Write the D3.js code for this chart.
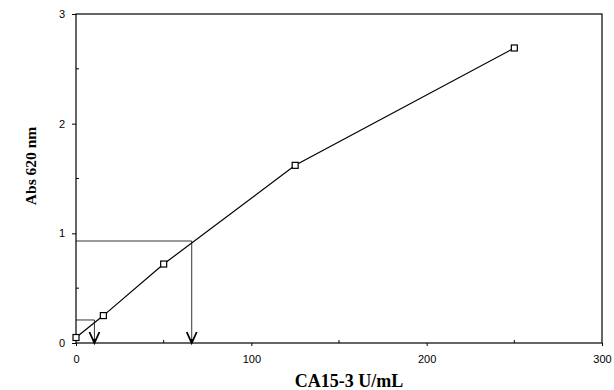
<!DOCTYPE html>
<html lang="en">
<head>
<meta charset="utf-8">
<script src="https://d3js.org/d3.v7.min.js"></script>
<style>
  body { margin: 0; background: #fff; }
  text { fill: #000; }
</style>
</head>
<body>
<script>
  var w = 614, h = 390;

  // calibration standards
  var conc = [0, 15.6, 50, 125, 250];
  var absorb = [0.05, 0.25, 0.72, 1.62, 2.69];
  // read-off lines for the two samples: [abs, conc]
  var samples = [[0.93, 66], [0.21, 10.5]];
  var xTicks = [0, 100, 200, 300];
  var yTicks = [0, 1, 2, 3];

  var margin = {left: 76, right: 12, top: 14, bottom: 47};

  var svg = d3.select("body").append("svg")
    .attr("width", w).attr("height", h);

  var x = d3.scaleLinear().domain([0, 300]).range([margin.left, w - margin.right]);
  var y = d3.scaleLinear().domain([0, 3]).range([h - margin.bottom, margin.top]);

  // frame
  svg.append("rect")
    .attr("x", x(0)).attr("y", y(3))
    .attr("width", x(300) - x(0)).attr("height", y(0) - y(3))
    .attr("fill", "none").attr("stroke", "#000").attr("stroke-width", 1.2);

  var xAxis = svg.append("g")
    .attr("transform", `translate(0,${y(0)})`)
    .call(d3.axisBottom(x).tickValues(xTicks).tickFormat(d3.format("d")).tickSize(3).tickPadding(9));
  xAxis.select(".domain").remove();
  xAxis.selectAll("text").style("font-family", "Liberation Sans, Arial, sans-serif").style("font-size", "11px");

  var yAxis = svg.append("g")
    .attr("transform", `translate(${x(0)},0)`)
    .call(d3.axisLeft(y).tickValues(yTicks).tickFormat(d3.format("d")).tickSize(4).tickPadding(7));
  yAxis.select(".domain").remove();
  yAxis.selectAll("text").style("font-family", "Liberation Sans, Arial, sans-serif").style("font-size", "11px");

  // minor inward ticks
  svg.selectAll("line.mx").data([50, 150, 250]).join("line")
    .attr("x1", d => x(d)).attr("x2", d => x(d))
    .attr("y1", y(0)).attr("y2", y(0) - 3)
    .attr("stroke", "#000");
  svg.selectAll("line.my").data([0.5, 1.5, 2.5]).join("line")
    .attr("x1", x(0)).attr("x2", x(0) + 3)
    .attr("y1", d => y(d)).attr("y2", d => y(d))
    .attr("stroke", "#000");

  // read-off lines with arrows
  samples.forEach(function (s) {
    svg.append("path")
      .attr("d", `M${x(0)},${y(s[0])}H${x(s[1])}V${y(0)}`)
      .attr("fill", "none").attr("stroke", "#000").attr("stroke-width", 0.8);
    var ax = x(s[1]), ay = y(0);
    svg.append("path")
      .attr("d", `M${ax - 5},${ay - 11}L${ax},${ay}L${ax + 5},${ay - 11}`)
      .attr("fill", "none").attr("stroke", "#000").attr("stroke-width", 1.8);
    svg.append("path")
      .attr("d", `M${ax - 2.5},${ay - 4}L${ax},${ay}L${ax + 2.5},${ay - 4}Z`)
      .attr("fill", "#000");
  });

  // calibration curve
  var pts = conc.map((c, i) => ({c: c, a: absorb[i]}));
  svg.append("path")
    .datum(pts)
    .attr("d", d3.line().x(d => x(d.c)).y(d => y(d.a)))
    .attr("fill", "none").attr("stroke", "#000").attr("stroke-width", 1.2);

  svg.selectAll("rect.pt").data(pts).join("rect")
    .attr("class", "pt")
    .attr("x", d => x(d.c) - 3).attr("y", d => y(d.a) - 3)
    .attr("width", 6).attr("height", 6)
    .attr("fill", "#fff").attr("stroke", "#000").attr("stroke-width", 1.2);

  // axis titles
  svg.append("text")
    .attr("x", 349).attr("y", 387)
    .attr("text-anchor", "middle")
    .style("font-family", "Liberation Serif, Times New Roman, serif")
    .style("font-weight", "bold").style("font-size", "18px")
    .text("CA15-3 U/mL");

  svg.append("text")
    .attr("transform", "translate(36,166) rotate(-90)")
    .attr("text-anchor", "middle")
    .style("font-family", "Liberation Serif, Times New Roman, serif")
    .style("font-weight", "bold").style("font-size", "15.5px")
    .text("Abs 620 nm");
</script>
</body>
</html>
